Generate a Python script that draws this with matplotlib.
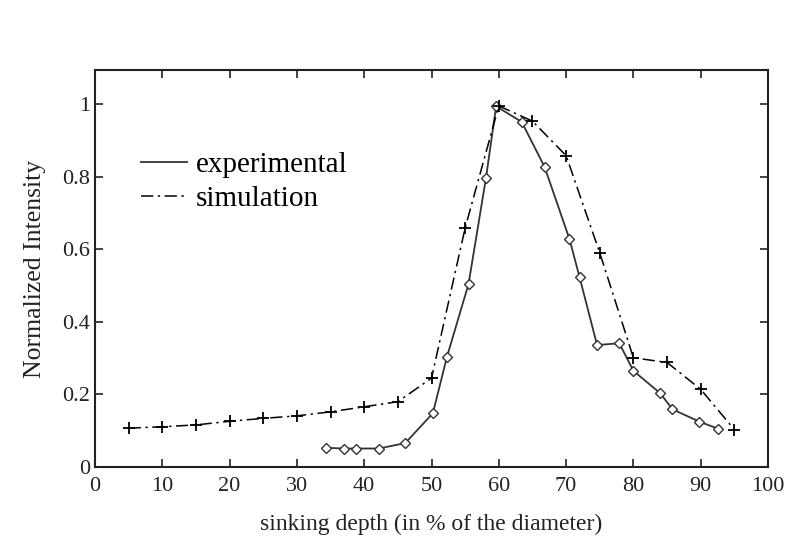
import numpy as np
import matplotlib
matplotlib.use('Agg')
import matplotlib.pyplot as plt

# experimental measurements (diamonds, solid line)
exp_depth = [34.3, 37.0, 38.8, 42.2, 46.1, 50.2, 52.3, 55.5, 58.1, 59.6,
             63.4, 66.8, 70.5, 72.0, 74.6, 77.9, 80.0, 84.0, 85.8, 89.8, 92.5]
exp_int = [0.053, 0.051, 0.051, 0.051, 0.066, 0.148, 0.304, 0.504, 0.797, 0.994,
           0.951, 0.827, 0.628, 0.523, 0.336, 0.341, 0.265, 0.203, 0.159, 0.125, 0.106]

# simulation (plus markers, dash-dot line)
sim_depth = [5, 10, 15, 20, 25, 30, 35, 40, 45, 50,
             55, 60, 65, 70, 75, 80, 85, 90, 95]
sim_int = [0.107, 0.111, 0.116, 0.126, 0.134, 0.141, 0.152, 0.166, 0.18, 0.245,
           0.659, 0.995, 0.953, 0.858, 0.59, 0.301, 0.288, 0.214, 0.103]

x_ticks = [0, 10, 20, 30, 40, 50, 60, 70, 80, 90, 100]
y_ticks = [0, 0.2, 0.4, 0.6, 0.8, 1]
y_labels = ['0', '0.2', '0.4', '0.6', '0.8', '1']

plt.rcParams['font.family'] = ['Liberation Serif', 'DejaVu Serif']

fig = plt.figure(figsize=(7.93, 5.45), dpi=100)
ax = fig.add_axes([0.1198, 0.1431, 0.8487, 0.7285])

ax.plot(exp_depth, exp_int, color='#333333', linewidth=1.3, linestyle='-',
        marker='D', markersize=5, markerfacecolor='white',
        markeredgecolor='#333333', markeredgewidth=1.0, label='experimental')
ax.plot(sim_depth, sim_int, color='black', linewidth=1.1,
        linestyle=(0, (8, 3, 1.5, 3)),
        marker='+', markersize=9, markeredgewidth=1.3, label='simulation')

ax.set_xlim(0, 100)
ax.set_ylim(0, 1.094)
ax.set_xticks(x_ticks)
ax.set_yticks(y_ticks)
ax.set_yticklabels(y_labels)
ax.tick_params(direction='in', top=True, right=True, length=6, width=1.2,
               labelsize=16, colors='#222222')
ax.tick_params(axis='x', pad=7)
for s in ax.spines.values():
    s.set_linewidth(1.5)
    s.set_color('#222222')

ax.set_xlabel('sinking depth (in % of the diameter)', fontsize=17,
              labelpad=13, color='#222222')
ax.set_ylabel('Normalized Intensity', fontsize=18.5, labelpad=12, color='#222222')

leg = ax.legend(loc='upper left', bbox_to_anchor=(0.03, 0.86), frameon=False,
                fontsize=21, handlelength=1.55, handletextpad=0.3,
                labelspacing=0.25)
# legend handles drawn as plain lines, as in the original
for h in leg.legend_handles:
    h.set_marker('')

fig.savefig('out.png', dpi=100)
